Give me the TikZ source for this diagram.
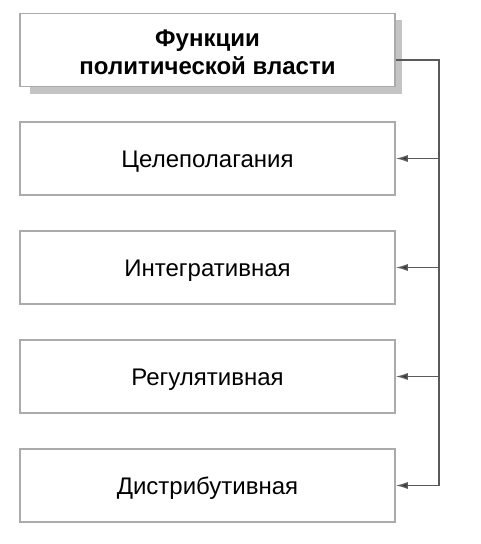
\documentclass[tikz,border=0pt]{standalone}
\usepackage{fontspec}
\setmainfont{Liberation Sans}
\usetikzlibrary{arrows.meta}
\definecolor{boxline}{HTML}{ABABAB}
\definecolor{conn}{HTML}{5A5A5A}
\definecolor{shadowc}{HTML}{C4C4C4}
\begin{document}
\begin{tikzpicture}[x=1pt,y=-1pt,
  fbox/.style={draw=boxline, line width=1.6pt, fill=white, minimum width=375pt, minimum height=73pt, inner sep=0pt, font=\fontsize{24}{28}\selectfont, align=center, text height=21pt, text depth=4pt},
  conline/.style={draw=conn, line width=1.4pt},
  arr/.style={conline, -{Latex[length=12pt,width=7pt,fill=black!80]}}]
\useasboundingbox (0,0) rectangle (480,544);
\fill[shadowc] (30,20) rectangle (402,94);
\node[fbox, text height=, text depth=] (top) at (207.5,50) {};
\node[font=\bfseries\fontsize{24}{28}\selectfont, align=center, inner sep=0pt] (toptext) at ([yshift=-2pt]top.center) {Функции\\политической власти};
\node[fbox] (b1) at (207.5,158.5) {Целеполагания};
\node[fbox] (b2) at (207.5,267.5) {Интегративная};
\node[fbox] (b3) at (207.5,376.5) {Регулятивная};
\node[fbox] (b4) at (207.5,485.5) {Дистрибутивная};
\coordinate (c0) at (439,60);
\coordinate (c4) at (439,485.5);
\draw[conline] (top.east |- c0) -- (c0) -- (c4);
\draw[arr] (c0 |- b1.east) -- (b1.east);
\draw[arr] (c0 |- b2.east) -- (b2.east);
\draw[arr] (c0 |- b3.east) -- (b3.east);
\draw[arr] (c4) -- (b4.east);
\end{tikzpicture}
\end{document}
